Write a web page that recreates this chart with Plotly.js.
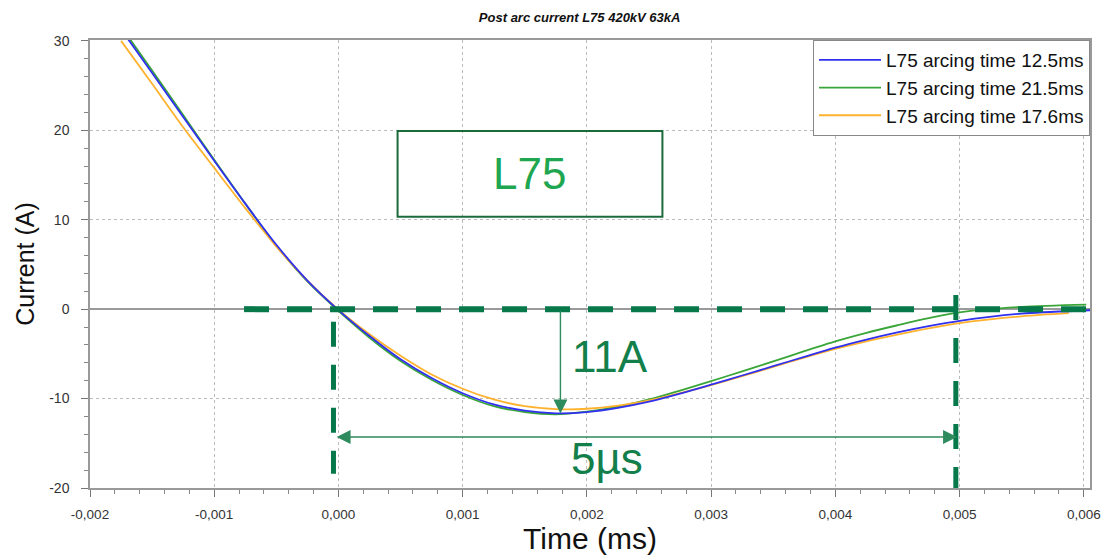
<!DOCTYPE html>
<html>
<head>
<meta charset="utf-8">
<script src="https://cdn.plot.ly/plotly-3.0.1.min.js"></script>
<style>
  html, body { margin: 0; padding: 0; background: #ffffff; }
  #chart { width: 1102px; height: 557px; }
</style>
</head>
<body>
<div id="chart"></div>
<script>
// ---- Data (time in the axis units shown, current in A) ----
const seriesNames = ["L75 arcing time 12.5ms", "L75 arcing time 21.5ms", "L75 arcing time 17.6ms"];

const xTickVals = [-0.002, -0.001, 0, 0.001, 0.002, 0.003, 0.004, 0.005, 0.006];
const xTickLabels = ["-0,002", "-0,001", "0,000", "0,001", "0,002", "0,003", "0,004", "0,005", "0,006"];
const yTickVals = [-20, -10, 0, 10, 20, 30];
const yTickLabels = ["-20", "-10", "0", "10", "20", "30"];

const timeBlue = [-0.00175, -0.0015, -0.00125, -0.001, -0.00075, -0.0005, -0.00025, 0, 0.00025, 0.0005, 0.00075, 0.001, 0.00125, 0.0015, 0.00175, 0.002, 0.00225, 0.0025, 0.00275, 0.003, 0.00325, 0.0035, 0.00375, 0.004, 0.00425, 0.0045, 0.00475, 0.005, 0.0055, 0.006, 0.00606];
const currentBlue = [31.3, 26.4, 21.5, 16.6, 11.8, 7.2, 3.2, -0.1, -3.0, -5.6, -7.7, -9.4, -10.65, -11.35, -11.65, -11.52, -11.05, -10.35, -9.45, -8.45, -7.42, -6.38, -5.33, -4.3, -3.4, -2.6, -1.9, -1.3, -0.5, -0.15, -0.12];

const timeGreen = [-0.00175, -0.0015, -0.00125, -0.001, -0.00075, -0.0005, -0.00025, 0, 0.00025, 0.0005, 0.00075, 0.001, 0.00125, 0.0015, 0.00175, 0.002, 0.00225, 0.0025, 0.00275, 0.003, 0.00325, 0.0035, 0.00375, 0.004, 0.00425, 0.0045, 0.00475, 0.005, 0.0055, 0.00602];
const currentGreen = [31.6, 26.7, 21.7, 16.7, 11.8, 7.1, 3.1, -0.2, -3.2, -5.8, -7.9, -9.6, -10.85, -11.5, -11.75, -11.46, -10.9, -10.1, -9.1, -8.05, -6.95, -5.85, -4.7, -3.6, -2.65, -1.8, -1.0, -0.35, 0.25, 0.5];

const timeOrange = [-0.00175, -0.0015, -0.00125, -0.001, -0.00075, -0.0005, -0.00025, 0, 0.00025, 0.0005, 0.00075, 0.001, 0.00125, 0.0015, 0.00175, 0.002, 0.00225, 0.0025, 0.00275, 0.003, 0.00325, 0.0035, 0.00375, 0.004, 0.00425, 0.0045, 0.00475, 0.005, 0.0055, 0.00588];
const currentOrange = [30.0, 25.2, 20.35, 15.8, 11.3, 7.0, 3.2, -0.05, -2.8, -5.2, -7.3, -8.9, -10.1, -10.85, -11.17, -11.14, -10.8, -10.2, -9.4, -8.5, -7.5, -6.45, -5.42, -4.45, -3.6, -2.85, -2.15, -1.55, -0.8, -0.45];

// Annotation geometry in data units
const zeroDashT = [-0.00076, 0.00605];     // horizontal dashed line at 0 A
const leftMarkT = -0.00004;                // vertical dashed line (current zero)
const leftMarkI = [-1.4, -18.4];
const rightMarkT = 0.00497;                // vertical dashed line (end)
const rightMarkI = [1.57, -20];
const peakT = 0.001787, peakI = -11.68;    // 11A arrow
const spanI = -14.3, spanT = [-0.000027, 0.00498]; // 5µs arrow
const boxT = [0.000476, 0.002608], boxI = [10.34, 19.93];
const labels = [
  {text: "L75", t: 0.001537, i: 15.12, color: "#1fa650"},
  {text: "11A", t: 0.002187, i: -5.24, color: "#13804c"},
  {text: "5µs", t: 0.00216, i: -16.7, color: "#13804c"}
];

const FONT = "Arial, 'Liberation Sans', sans-serif";
const dashColor = "#07784a";
const arrowColor = "#2e8b5e";

const traces = [
  {x: timeGreen, y: currentGreen, name: seriesNames[1], legendrank: 2, mode: "lines",
   line: {color: "#3aa63a", width: 1.8, shape: "spline", smoothing: 0.8}},
  {x: timeOrange, y: currentOrange, name: seriesNames[2], legendrank: 3, mode: "lines",
   line: {color: "#ffb22e", width: 1.8, shape: "spline", smoothing: 0.8}},
  {x: timeBlue, y: currentBlue, name: seriesNames[0], legendrank: 1, mode: "lines",
   line: {color: "#3030ee", width: 1.8, shape: "spline", smoothing: 0.8}}
];

const dash = "25px,18px";
const shapes = [
  {type: "line", xref: "x", yref: "y", x0: zeroDashT[0], x1: zeroDashT[1], y0: 0, y1: 0,
   line: {color: dashColor, width: 6, dash: dash}},
  {type: "line", xref: "x", yref: "y", x0: leftMarkT, x1: leftMarkT, y0: leftMarkI[0], y1: leftMarkI[1],
   line: {color: dashColor, width: 5, dash: dash}},
  {type: "line", xref: "x", yref: "y", x0: rightMarkT, x1: rightMarkT, y0: rightMarkI[0], y1: rightMarkI[1],
   line: {color: dashColor, width: 5, dash: dash}},
  {type: "rect", xref: "x", yref: "y", x0: boxT[0], x1: boxT[1], y0: boxI[0], y1: boxI[1],
   line: {color: "#1b6b3a", width: 2}, fillcolor: "rgba(0,0,0,0)"}
];

const annotations = [
  {x: peakT, y: peakI, ax: peakT, ay: 0, xref: "x", yref: "y", axref: "x", ayref: "y",
   text: "", showarrow: true, arrowhead: 2, arrowsize: 2, arrowwidth: 1.4, arrowcolor: arrowColor, standoff: 0},
  {x: spanT[1], y: spanI, ax: spanT[0], ay: spanI, xref: "x", yref: "y", axref: "x", ayref: "y",
   text: "", showarrow: true, arrowhead: 2, startarrowhead: 2, arrowside: "end+start",
   arrowsize: 2, startarrowsize: 2, arrowwidth: 1.4, arrowcolor: arrowColor, standoff: 0, startstandoff: 0}
].concat(labels.map(l => ({
  x: l.t, y: l.i, xref: "x", yref: "y", text: l.text, showarrow: false,
  font: {family: FONT, size: 44, color: l.color}, xanchor: "center", yanchor: "middle"
})));

const axisCommon = {
  showline: true, linecolor: "#999999", linewidth: 1.5, mirror: true,
  ticks: "outside", ticklen: 7, tickcolor: "#777777", tickwidth: 1,
  showgrid: true, gridcolor: "#bbbbbb", griddash: "dot", gridwidth: 1,
  tickfont: {family: FONT, size: 14, color: "#333333"},
  automargin: false
};

const layout = {
  width: 1102, height: 557,
  paper_bgcolor: "#ffffff", plot_bgcolor: "#ffffff",
  margin: {l: 90, r: 12, t: 40, b: 69},
  separators: ",.",
  font: {family: FONT},
  title: {text: "<b><i>Post arc current L75 420kV 63kA</i></b>", x: 0.526, xref: "container",
          y: 0.969, yref: "container", yanchor: "middle",
          font: {family: FONT, size: 13, color: "#111111"}},
  xaxis: Object.assign({}, axisCommon, {
    range: [-0.002, 0.00605], tickmode: "array", tickvals: xTickVals, ticktext: xTickLabels,
    zeroline: false, ticklabelstandoff: 6,
    tickfont: {family: FONT, size: 13.5, color: "#333333"},
    minor: {tick0: -0.002, dtick: 0.0002, ticks: "outside", ticklen: 4, tickcolor: "#888888", showgrid: false},
    title: {text: "Time (ms)", font: {family: FONT, size: 30, color: "#111111"}, standoff: 6}
  }),
  yaxis: Object.assign({}, axisCommon, {
    range: [-20, 30.1], tickmode: "array", tickvals: yTickVals, ticktext: yTickLabels,
    zeroline: true, zerolinecolor: "#9a9a9a", zerolinewidth: 2, ticklabelstandoff: 9,
    minor: {tick0: 0, dtick: 2, ticks: "outside", ticklen: 4, tickcolor: "#888888", showgrid: false},
    title: {text: "Current (A)", font: {family: FONT, size: 25, color: "#111111"}, standoff: 7}
  }),
  legend: {x: 1, xanchor: "right", y: 1, yanchor: "top", bgcolor: "#ffffff",
           bordercolor: "#888888", borderwidth: 1, itemwidth: 62,
           font: {family: FONT, size: 19, color: "#111111"}, tracegroupgap: 0},
  showlegend: true,
  shapes: shapes,
  annotations: annotations
};

Plotly.newPlot("chart", traces, layout, {displayModeBar: false, responsive: false});
</script>
</body>
</html>
